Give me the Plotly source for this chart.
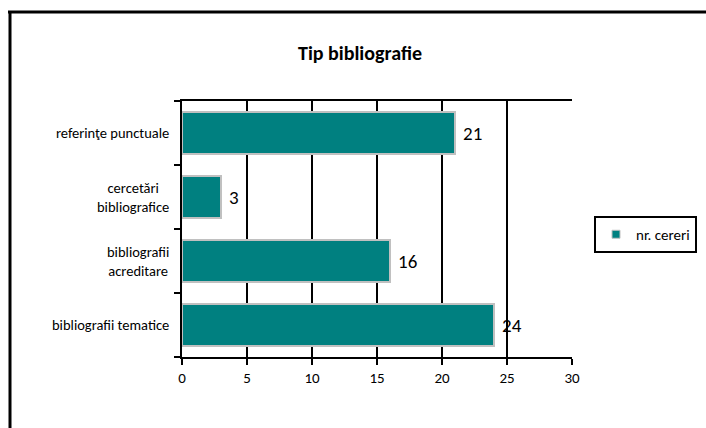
import plotly.graph_objects as go

categories = ["bibliografii tematice", "bibliografii<br>acreditare", "cercetări<br>bibliografice", "referinţe punctuale"]
values = [24, 16, 3, 21]
series_name = "nr. cereri"
title_text = "Tip bibliografie"
x_ticks = [0, 5, 10, 15, 20, 25, 30]

FONT = "Calibri, Carlito, Lato, 'Open Sans', sans-serif"
W, H = 706, 428
L, R, T, B = 182, 134, 101, 71
pw, ph = W - L - R, H - T - B

def px_x(p):
    return (p - L) / pw

def px_y(p):
    return (H - B - p) / ph

TEAL = "#008080"
GRAY = "#c0c0c0"

fig = go.Figure()
fig.add_trace(go.Bar(
    y=categories, x=values, orientation="h", name=series_name,
    marker=dict(color=TEAL, line=dict(color=GRAY, width=2)),
    width=0.66, showlegend=False,
))
fig.add_trace(go.Scatter(
    x=[None], y=[None], mode="markers", name=series_name,
    marker=dict(symbol="square", size=8, color=TEAL, line=dict(color=GRAY, width=1)),
    showlegend=True, hoverinfo="skip",
))

annotations = []
for c, v in zip(categories, values):
    annotations.append(dict(x=v, y=c, xref="x", yref="y", text=str(v), showarrow=False,
                            xanchor="left", xshift=6, font=dict(size=19, color="black", family=FONT)))
    annotations.append(dict(x=px_x(171), y=c, xref="paper", yref="y", text=c, showarrow=False,
                            xanchor="right", align="center", font=dict(size=14.5, color="black", family=FONT)))
annotations.append(dict(x=px_x(360), y=px_y(53), xref="paper", yref="paper", text="<b>" + title_text + "</b>",
                        showarrow=False, xanchor="center", yanchor="middle",
                        font=dict(size=20, color="black", family=FONT)))

fig.update_layout(
    width=W, height=H,
    margin=dict(l=L, r=R, t=T, b=B, pad=0, autoexpand=False),
    paper_bgcolor="white", plot_bgcolor="white",
    font=dict(family=FONT, color="black"),
    annotations=annotations,
    legend=dict(x=px_x(594), y=px_y(216), xanchor="left", yanchor="top",
                bordercolor="black", borderwidth=2, bgcolor="white",
                font=dict(size=15, family=FONT), itemwidth=30,
                tracegroupgap=0),
    shapes=[
        dict(type="line", xref="paper", yref="paper", x0=px_x(8), x1=px_x(706), y0=px_y(12), y1=px_y(12),
             line=dict(color="black", width=3)),
        dict(type="line", xref="paper", yref="paper", x0=px_x(10), x1=px_x(10), y0=px_y(11), y1=px_y(428),
             line=dict(color="black", width=3)),
    ],
)
fig.update_xaxes(range=[0, 30], tickvals=x_ticks, ticktext=[str(t) for t in x_ticks],
                 showgrid=True, gridcolor="black", gridwidth=2,
                 showline=True, linecolor="black", linewidth=2, mirror=True,
                 ticks="outside", ticklen=6, tickwidth=2, tickcolor="black",
                 tickfont=dict(size=15, family=FONT), zeroline=False)
fig.update_yaxes(categoryorder="array", categoryarray=categories,
                 showticklabels=False, showgrid=False,
                 showline=True, linecolor="black", linewidth=2,
                 ticks="outside", tickson="boundaries", ticklen=6, tickwidth=2, tickcolor="black")

fig.write_html("out.html", config={"displayModeBar": False},
               post_script=("document.documentElement.style.overflow='hidden';"
                            "document.body.style.overflow='hidden';"
                            "document.body.style.margin='0';document.body.style.padding='0';"))
